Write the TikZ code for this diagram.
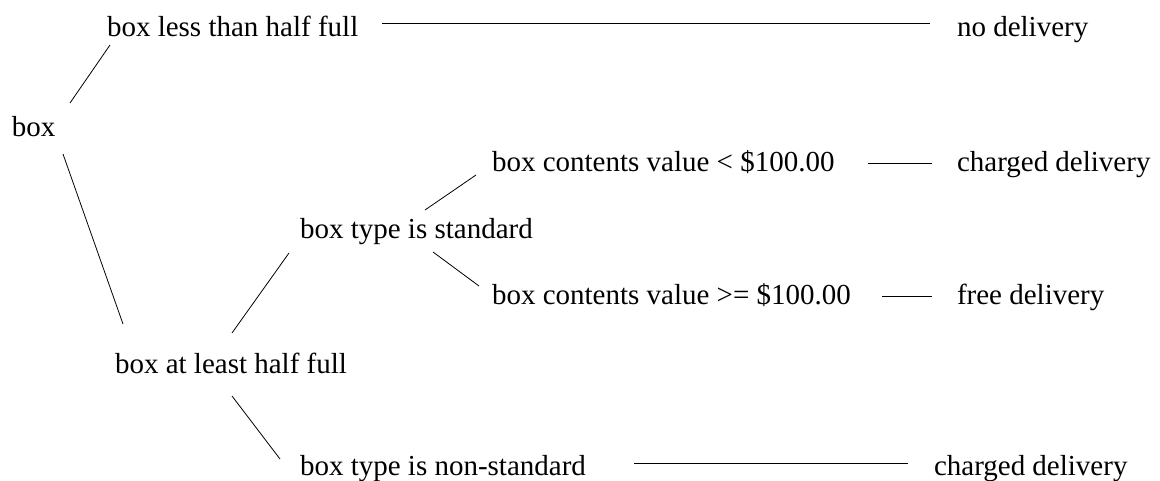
\documentclass[tikz,border=0pt]{standalone}
\usepackage{fontspec}
\setmainfont{Liberation Serif}
\begin{document}
\begin{tikzpicture}[x=1pt,y=-1pt,
  lbl/.style={anchor=base west,inner sep=0pt,outer sep=0pt,font=\fontsize{29}{34}\selectfont},
  edge/.style={line width=0.8pt}]
\useasboundingbox (0,0) rectangle (1160,481);
\node[lbl] (box) at (12,137) {box};
\node[lbl] (less) at (107,37) {box less than half full};
\node[lbl] (nod) at (957,37) {no delivery};
\node[lbl] (atleast) at (115,373) {box at least half full};
\node[lbl] (std) at (300,239) {box type is standard};
\node[lbl] (lt) at (492,172) {box contents value < \$100.00};
\node[lbl] (cd1) at (957,172) {charged delivery};
\node[lbl] (ge) at (492,305) {box contents value >= \$100.00};
\node[lbl] (free) at (957,305) {free delivery};
\node[lbl] (nonstd) at (300,475) {box type is non-standard};
\node[lbl] (cd2) at (934,475) {charged delivery};
\draw[edge] ([shift={(58,-34)}]box.base west) -- ([shift={(3,8)}]less.base west);
\draw[edge] ([shift={(275,-14)}]less.base west) -- ([shift={(-27,-14)}]nod.base west);
\draw[edge] ([shift={(51,17)}]box.base west) -- ([shift={(8,-49)}]atleast.base west);
\draw[edge] ([shift={(117,-40)}]atleast.base west) -- ([shift={(-11,14)}]std.base west);
\draw[edge] ([shift={(117,23)}]atleast.base west) -- ([shift={(-20,-16)}]nonstd.base west);
\draw[edge] ([shift={(125,-29)}]std.base west) -- ([shift={(-16,3)}]lt.base west);
\draw[edge] ([shift={(133,13)}]std.base west) -- ([shift={(-13,-19)}]ge.base west);
\draw[edge] ([shift={(376,-9)}]lt.base west) -- ([shift={(-25,-9)}]cd1.base west);
\draw[edge] ([shift={(390,-9)}]ge.base west) -- ([shift={(-25,-9)}]free.base west);
\draw[edge] ([shift={(334,-12)}]nonstd.base west) -- ([shift={(-26,-12)}]cd2.base west);
\end{tikzpicture}
\end{document}
